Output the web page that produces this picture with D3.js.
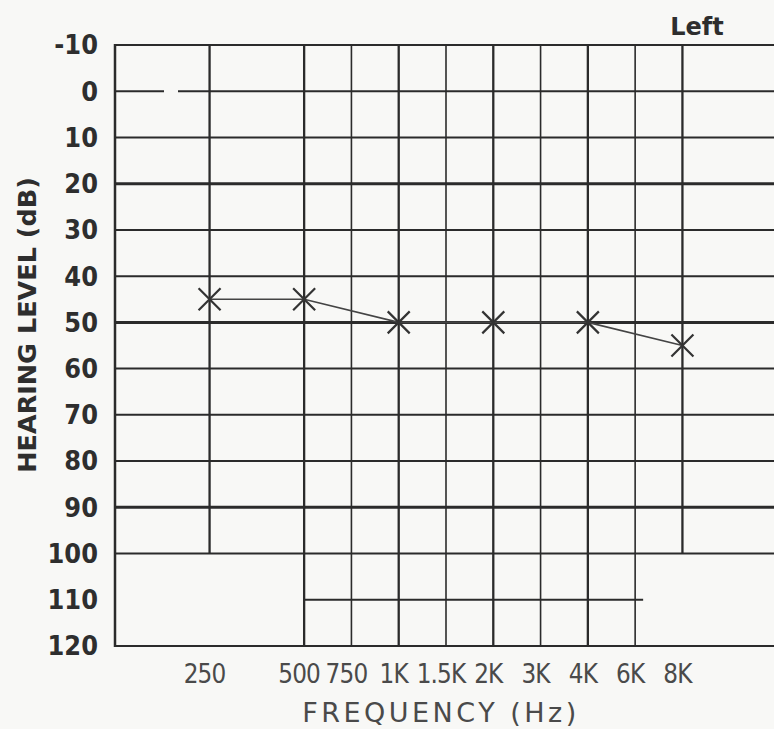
<!DOCTYPE html>
<html>
<head>
<meta charset="utf-8">
<script src="https://cdn.jsdelivr.net/npm/d3@7"></script>
<style>
  html, body { margin: 0; padding: 0; background: #f8f8f6; }
  svg { display: block; }
</style>
</head>
<body>
<script>
// audiogram values
const dbTicks = [-10, 0, 10, 20, 30, 40, 50, 60, 70, 80, 90, 100, 110, 120];
const majorDb = [20, 50, 90];
const freqs = [250, 500, 750, 1000, 1500, 2000, 3000, 4000, 6000, 8000];
const freqLabels = ["250", "500", "750", "1K", "1.5K", "2K", "3K", "4K", "6K", "8K"];
const shortFreqs = [250, 8000];          // these columns stop at 100 dB
const leftFreqs = [250, 500, 1000, 2000, 4000, 8000];
const leftDb = [45, 45, 50, 50, 50, 55];

const width = 774, height = 729;

// half-octave columns, like a printed audiogram
const oct = f => Math.round(2 * Math.log2(f / 250)) / 2;

const x = d3.scaleLinear().domain([-1, 6]).range([115, 777]);
const y = d3.scaleLinear().domain([-10, 120]).range([45, 646]);

const svg = d3.select("body").append("svg")
    .attr("width", width)
    .attr("height", height);

const ink = "#2b2b2b";
const grid = svg.append("g").attr("stroke", ink).attr("fill", "none");

// horizontal lines (0 dB is skipped here, the scan has a break in it)
grid.selectAll(".h")
  .data(dbTicks.filter(d => d !== 110 && d !== 0))
  .join("line")
    .attr("x1", x(-1)).attr("x2", width)
    .attr("y1", d => y(d)).attr("y2", d => y(d))
    .attr("stroke-width", d => majorDb.includes(d) ? 3 : 2);

grid.selectAll(".zero")
  .data([[x(-1), 164], [178, width]])
  .join("line")
    .attr("x1", d => d[0]).attr("x2", d => d[1])
    .attr("y1", y(0)).attr("y2", y(0))
    .attr("stroke-width", 2);

// 110 dB line only runs 500 .. 6K
grid.append("line")
    .attr("x1", x(oct(500))).attr("x2", x(oct(6000)) + 8)
    .attr("y1", y(110)).attr("y2", y(110))
    .attr("stroke-width", 2);

// vertical lines
grid.selectAll(".v")
  .data(freqs)
  .join("line")
    .attr("x1", d => x(oct(d))).attr("x2", d => x(oct(d)))
    .attr("y1", y(-10))
    .attr("y2", d => shortFreqs.includes(d) ? y(100) : y(120))
    .attr("stroke-width", d => Number.isInteger(oct(d)) ? 2.3 : 1.6);

// left border
grid.append("line")
    .attr("x1", x(-1)).attr("x2", x(-1))
    .attr("y1", y(-10) - 1).attr("y2", y(120) + 1)
    .attr("stroke-width", 2.5);

// y tick labels
svg.append("g")
    .attr("font-family", "DejaVu Sans, sans-serif")
    .attr("font-weight", "bold")
    .attr("font-size", 26)
    .attr("fill", "#2e2e2e")
    .attr("text-anchor", "end")
  .selectAll("text")
  .data(dbTicks)
  .join("text")
    .attr("transform", d => `translate(98,${y(d)}) scale(0.93,1)`)
    .attr("dy", "0.36em")
    .text(d => d);

// x tick labels, narrow like the printed form
svg.append("g")
    .attr("font-family", "DejaVu Sans, sans-serif")
    .attr("font-size", 27)
    .attr("fill", "#4a4a4a")
    .attr("text-anchor", "middle")
  .selectAll("text")
  .data(freqs)
  .join("text")
    .attr("transform", d => `translate(${x(oct(d)) - 5},683) scale(0.86,1)`)
    .attr("letter-spacing", -1)
    .text((d, i) => freqLabels[i]);

// axis titles
svg.append("text")
    .attr("x", 441).attr("y", 722)
    .attr("text-anchor", "middle")
    .attr("font-family", "DejaVu Sans, sans-serif")
    .attr("font-size", 27)
    .attr("letter-spacing", 3.5)
    .attr("fill", "#4a4a4a")
    .text("FREQUENCY (Hz)");

svg.append("text")
    .attr("transform", "translate(36,325) rotate(-90)")
    .attr("text-anchor", "middle")
    .attr("font-family", "DejaVu Sans, sans-serif")
    .attr("font-weight", "bold")
    .attr("font-size", 25.5)
    .attr("fill", "#2e2e2e")
    .text("HEARING LEVEL (dB)");

svg.append("text")
    .attr("x", 697).attr("y", 35)
    .attr("text-anchor", "middle")
    .attr("font-family", "DejaVu Sans, sans-serif")
    .attr("font-weight", "bold")
    .attr("font-size", 24)
    .attr("fill", "#2e2e2e")
    .text("Left");

// threshold line and X markers
const pts = leftFreqs.map((f, i) => [x(oct(f)), y(leftDb[i])]);

svg.append("path")
    .attr("d", d3.line()(pts))
    .attr("fill", "none")
    .attr("stroke", "#444")
    .attr("stroke-width", 1.6);

const s = 11;
svg.append("g")
    .attr("stroke", "#333")
    .attr("stroke-width", 2.2)
  .selectAll("path")
  .data(pts)
  .join("path")
    .attr("d", d => `M${d[0] - s},${d[1] - s}L${d[0] + s},${d[1] + s}M${d[0] - s},${d[1] + s}L${d[0] + s},${d[1] - s}`);
</script>
</body>
</html>
